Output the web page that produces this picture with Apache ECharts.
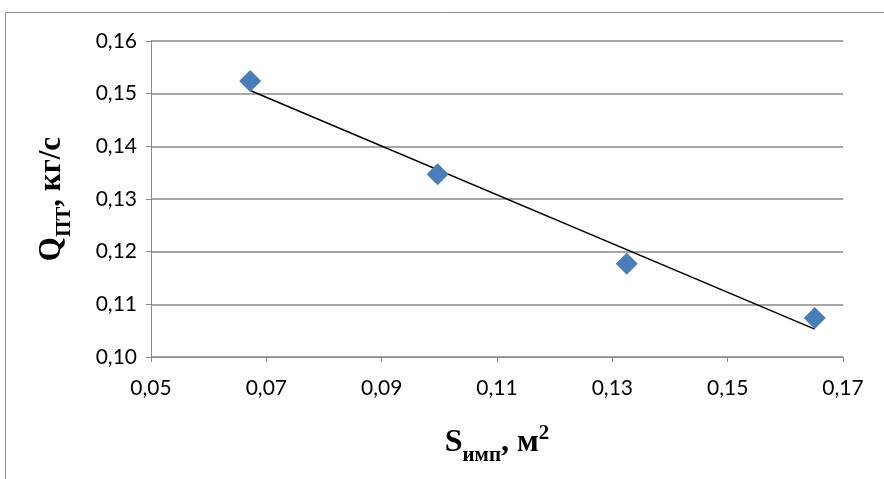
<!DOCTYPE html>
<html><head><meta charset="utf-8">
<script src="https://cdn.jsdelivr.net/npm/echarts@6/dist/echarts.min.js"></script>
<style>html,body{margin:0;padding:0;background:#fff}#c{width:884px;height:479px}</style>
</head><body><div id="c"></div>
<script>
const xValues = [0.0672, 0.0997, 0.1325, 0.1651];
const yValues = [0.1524, 0.1347, 0.1177, 0.1074];
const trendX = [0.0670, 0.1651];
const trendY = [0.1507, 0.1053];
const xTicks = {min: 0.05, max: 0.17, interval: 0.02};
const yTicks = {min: 0.10, max: 0.16, interval: 0.01};

const chart = echarts.init(document.getElementById('c'));
const fmt = (d) => (v) => v.toFixed(d).replace('.', ',');
const tickFont = {fontFamily: 'Lato, "Open Sans", sans-serif', fontSize: 21, color: '#000'};
const serif = '"Liberation Serif", "Times New Roman", serif';
chart.setOption({
  animation: false,
  graphic: [{type: 'rect', shape: {x: 5.5, y: 12.5, width: 900, height: 500}, style: {fill: 'none', stroke: '#8a8a8a', lineWidth: 1}, silent: true}],
  grid: {left: 151, right: 41, top: 41, bottom: 122},
  xAxis: {
    type: 'value', min: xTicks.min, max: xTicks.max, interval: xTicks.interval,
    axisLine: {show: true, lineStyle: {color: '#888', width: 1}},
    axisTick: {show: true, length: 5, lineStyle: {color: '#888'}},
    splitLine: {show: false},
    axisLabel: Object.assign({formatter: fmt(2), margin: 21}, tickFont),
    name: '{m|S}{s|имп}{m|, м}{p|2}',
    nameLocation: 'middle', nameGap: 66,
    nameTextStyle: {
      rich: {
        m: {fontFamily: serif, fontWeight: 'bold', fontSize: 32, color: '#000', lineHeight: 36, verticalAlign: 'bottom'},
        s: {fontFamily: serif, fontWeight: 'bold', fontSize: 21, color: '#000', lineHeight: 28, verticalAlign: 'bottom', padding: [0,0,-7,0]},
        p: {fontFamily: serif, fontWeight: 'bold', fontSize: 21, color: '#000', lineHeight: 36, verticalAlign: 'top', padding: [0,0,10,0]}
      }
    }
  },
  yAxis: {
    type: 'value', min: yTicks.min, max: yTicks.max, interval: yTicks.interval,
    axisLine: {show: true, lineStyle: {color: '#888', width: 1}},
    axisTick: {show: true, length: 5, lineStyle: {color: '#888'}},
    splitLine: {show: true, lineStyle: {color: '#888', width: 1.5}},
    axisLabel: Object.assign({formatter: fmt(2), margin: 14}, tickFont),
    name: '{m|Q}{s|ПТ}{m|, кг/с}',
    nameLocation: 'middle', nameGap: 84, nameRotate: 90,
    nameTextStyle: {
      rich: {
        m: {fontFamily: serif, fontWeight: 'bold', fontSize: 31, color: '#000', lineHeight: 34, verticalAlign: 'bottom'},
        s: {fontFamily: serif, fontWeight: 'bold', fontSize: 21, color: '#000', lineHeight: 28, verticalAlign: 'bottom', padding: [0,0,-8,0]}
      }
    }
  },
  series: [
    {type: 'line', data: trendX.map((x, i) => [x, trendY[i]]), symbol: 'none', lineStyle: {color: '#000', width: 1.5}, z: 2},
    {type: 'scatter', data: xValues.map((x, i) => [x, yValues[i]]), symbol: 'diamond', symbolSize: [22, 22], itemStyle: {color: '#4a7ebb', opacity: 1}, z: 3}
  ]
});
</script></body></html>
